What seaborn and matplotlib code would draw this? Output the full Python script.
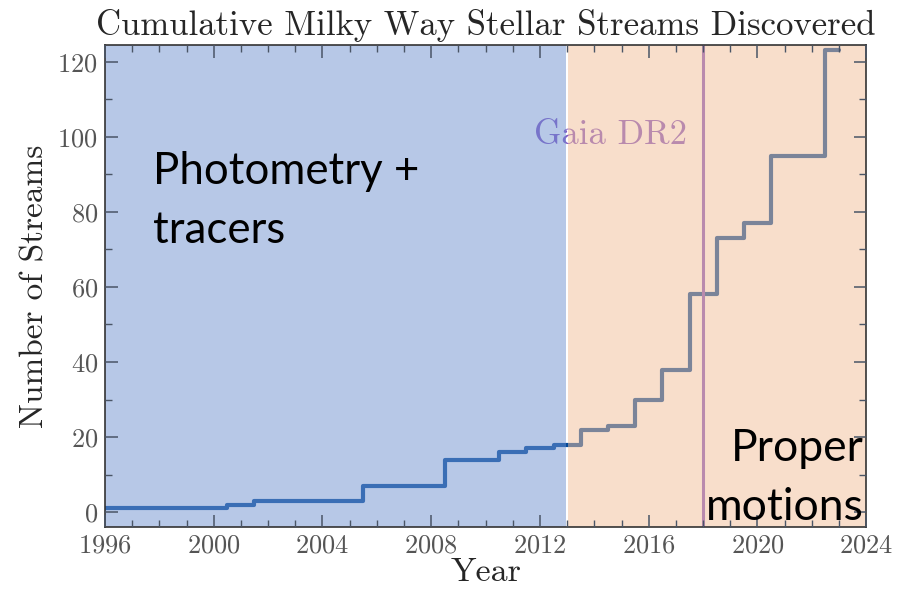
import numpy as np
import pandas as pd
import seaborn as sns
import matplotlib.pyplot as plt
from matplotlib.ticker import MultipleLocator

# Cumulative number of known Milky Way streams per year
years = list(range(1996, 2024))
n_streams = [1, 1, 1, 1, 1, 2, 3, 3, 3, 3, 7, 7, 7, 14, 14, 16, 17, 18,
             22, 23, 30, 38, 58, 73, 77, 95, 95, 123]

gaia_dr2_year = 2018
split_year = 2013

df = pd.DataFrame({"Year": years, "Streams": n_streams})
early = df[df["Year"] <= split_year]
late = df[df["Year"] >= split_year]

sns.set_style("ticks")
plt.rcParams['font.family'] = ['cmr10']
plt.rcParams['mathtext.fontset'] = 'cm'
plt.rcParams['axes.unicode_minus'] = False
plt.rcParams['axes.formatter.use_mathtext'] = True

fig = plt.figure(figsize=(8.97, 5.91), dpi=100)
ax = fig.add_axes([0.117, 0.108, 0.8487, 0.8155])

line_color = '#04499a'
sns.lineplot(data=early, x="Year", y="Streams", ax=ax, color=line_color,
             drawstyle='steps-mid', lw=3.0, zorder=2)
sns.lineplot(data=late, x="Year", y="Streams", ax=ax, color=line_color,
             drawstyle='steps-mid', lw=3.0, zorder=2)

# Gaia DR2 marker, drawn under the shaded eras
ax.axvline(gaia_dr2_year, color='#7f55c3', lw=2.2, zorder=2)
ax.text(2017.4, 100.5, "Gaia DR2", color='#7f55c3', fontsize=25,
        ha='right', va='center', zorder=2)

# shaded eras on top with alpha
ax.axvspan(1996, split_year - 0.04, color='#7193d1', alpha=0.5, lw=0, zorder=2.6)
ax.axvspan(split_year + 0.04, 2024, color='#f3bf99', alpha=0.5, lw=0, zorder=2.6)

# va='baseline' on multi-line text aligns the last line
ax.text(1997.75, 71.6, "Photometry +\ntracers", family='Lato', fontsize=31.5,
        color='black', ha='left', va='baseline', linespacing=1.55, zorder=5)
ax.text(2023.9, -2.2, "Proper\nmotions", family='Lato', fontsize=32,
        color='black', ha='right', va='baseline', linespacing=1.55, zorder=5)

ax.set_xlim(1996, 2024)
ax.set_ylim(-4, 124.4)
ax.xaxis.set_major_locator(MultipleLocator(4))
ax.xaxis.set_minor_locator(MultipleLocator(1))
ax.yaxis.set_major_locator(MultipleLocator(20))
ax.yaxis.set_minor_locator(MultipleLocator(10))
ax.tick_params(which='both', direction='in', top=True, right=True,
               colors='#4a5566', labelcolor='#555555', labelsize=19)
ax.tick_params(which='major', length=9, width=1.1, pad=5)
ax.tick_params(which='minor', length=5, width=1.0)
ax.xaxis.set_zorder(4)
ax.yaxis.set_zorder(4)
for sp in ax.spines.values():
    sp.set_color('#333333')
    sp.set_linewidth(1.2)
    sp.set_zorder(4)

ax.set_title("Cumulative Milky Way Stellar Streams Discovered", fontsize=25, pad=7)
ax.set_xlabel("Year", fontsize=24.5, labelpad=0)
ax.set_ylabel("Number of Streams", fontsize=24, labelpad=6)

fig.savefig("out.png", dpi=100)
